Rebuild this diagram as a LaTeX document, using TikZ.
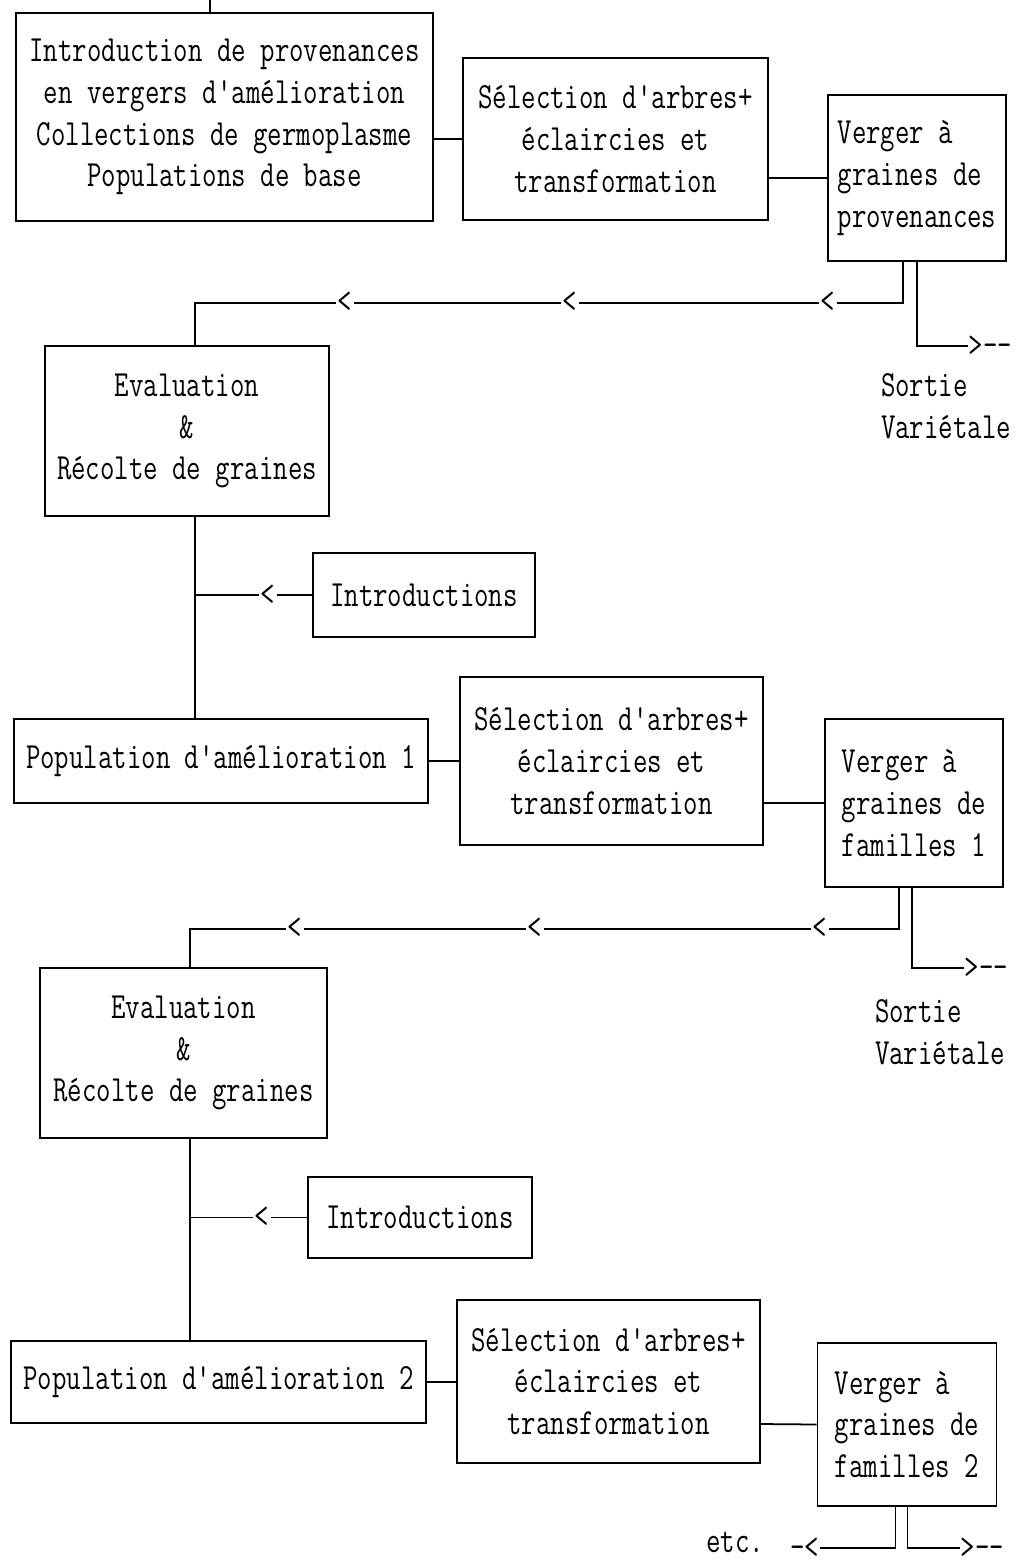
\documentclass[tikz,border=0pt]{standalone}
\usepackage{fontspec}
\setmonofont{Latin Modern Mono}[FakeStretch=0.76]
\usetikzlibrary{calc}
\begin{document}
\begin{tikzpicture}[x = 0.02cm, y = -0.02cm, line width = 1pt, font = \ttfamily\fontsize{21}{23.8}\selectfont,
	bloc/.style = {draw, inner sep = 0pt, align = center},
	verger/.style = {draw, inner sep = 0pt, align = left},
	pointe/.style = {fill = white, inner sep = 1pt}]
	\useasboundingbox (0,0) rectangle (1015,1563);
	\node [bloc, minimum width = 8.34cm, minimum height = 4.16cm] (intro) at (224.5,117) {Introduction de provenances\\en vergers d'amélioration\\Collections de germoplasme\\Populations de base};
	\node [bloc, minimum width = 6.1cm, minimum height = 3.24cm] (sel1) at (615.5,139) {Sélection d'arbres+\\éclaircies et\\transformation};
	\node [verger, minimum width = 3.56cm, minimum height = 3.32cm] (ver1) at (917,178) {Verger à\\graines de\\provenances};
	\node [bloc, minimum width = 5.68cm, minimum height = 3.4cm] (eval1) at (187,431) {Evaluation\\\&\\Récolte de graines};
	\node [bloc, minimum width = 4.44cm, minimum height = 1.68cm] (introd1) at (424,595) {Introductions};
	\node [bloc, minimum width = 8.28cm, minimum height = 1.68cm] (pop1) at (221,761) {Population d'amélioration 1};
	\node [bloc, minimum width = 6.06cm, minimum height = 3.36cm] (sel2) at (611.5,761) {Sélection d'arbres+\\éclaircies et\\transformation};
	\node [verger, minimum width = 3.56cm, minimum height = 3.36cm] (ver2) at (914,803) {Verger à\\graines de\\familles 1};
	\node [bloc, minimum width = 5.74cm, minimum height = 3.4cm] (eval2) at (183.5,1053) {Evaluation\\\&\\Récolte de graines};
	\node [bloc, minimum width = 4.48cm, minimum height = 1.62cm] (introd2) at (420,1217.5) {Introductions};
	\node [bloc, minimum width = 8.3cm, minimum height = 1.64cm] (pop2) at (218.5,1382) {Population d'amélioration 2};
	\node [bloc, minimum width = 6.06cm, minimum height = 3.26cm] (sel3) at (608.5,1381.5) {Sélection d'arbres+\\éclaircies et\\transformation};
	\node [verger, minimum width = 3.58cm, minimum height = 3.26cm] (ver3) at (907,1424.5) {Verger à\\graines de\\familles 2};
	\node [align = left] (sortie1) at (946,406) {Sortie\\Variétale};
	\node [align = left] (sortie2) at (940,1032) {Sortie\\Variétale};
	\node (etc) at (735,1542) {etc.};
	\coordinate (haut) at (210,0);
	\draw (haut) -- (haut |- intro.north);
	\draw (sel1.west -| intro.east) -- (sel1.west);
	\draw (ver1.west) -- (ver1.west -| sel1.east);
	\draw (pop1.east) -- (pop1.east -| sel2.west);
	\draw ($(ver2.west)$) -- ($(sel2.east)+(0,42)$);
	\draw (pop2.east) -- (pop2.east -| sel3.west);
	\draw (ver3.west) -- ($(sel3.east)+(0,42.5)$);
	\draw ($(ver1.south)+(-14,0)$) -- ++(0,41) coordinate (r1) -| ($(eval1.north)+(8,0)$);
	\draw ($(ver1.south)+(0,0)$) |- (968,346) node [anchor = west, inner sep = 0pt] (out1) {>{-}{-}};
	\draw ($(eval1.south)+(8,0)$) coordinate (v1) -- (v1 |- pop1.north);
	\draw (introd1.west) -- (introd1.west -| v1);
	\draw ($(ver2.south)+(-15,0)$) -- ++(0,41) coordinate (r2) -| ($(eval2.north)+(6.5,0)$);
	\draw ($(ver2.south)+(-2,0)$) |- (964,968) node [anchor = west, inner sep = 0pt] (out2) {>{-}{-}};
	\draw ($(eval2.south)+(6.5,0)$) coordinate (v2) -- (v2 |- pop2.north);
	\draw (introd2.west) -- (introd2.west -| v2);
	\draw ($(ver3.south)+(-11.5,0)$) |- (820,1548) node [anchor = east, inner sep = 0pt] (out3) {{-}<};
	\draw ($(ver3.south)+(0.5,0)$) |- (960,1548) node [anchor = west, inner sep = 0pt] (out4) {>{-}{-}};
	\foreach \x in {345,570,828}{
	\node [pointe] (ra\x) at (\x,302) {<};
	}
	\foreach \x in {295,535,820}{
	\node [pointe] (rb\x) at (\x,928) {<};
	}
	\node [pointe] (ia) at (268,595) {<};
	\node [pointe] (ib) at (262,1217.5) {<};
\end{tikzpicture}
\end{document}
